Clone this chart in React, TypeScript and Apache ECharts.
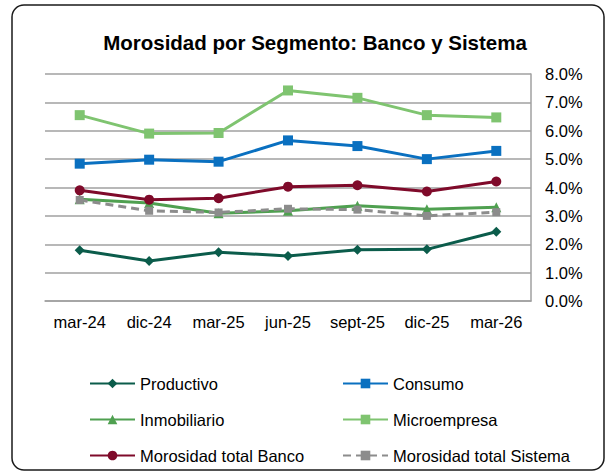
import React, { useEffect, useRef } from "react";
import * as echarts from "echarts";

const categories = ["mar-24", "dic-24", "mar-25", "jun-25", "sept-25", "dic-25", "mar-26"];
const productivo = [1.79, 1.41, 1.72, 1.59, 1.81, 1.82, 2.44];
const consumo = [4.84, 4.98, 4.91, 5.66, 5.46, 5.0, 5.29];
const inmobiliario = [3.59, 3.45, 3.09, 3.18, 3.36, 3.23, 3.3];
const microempresa = [6.55, 5.9, 5.92, 7.42, 7.16, 6.55, 6.47];
const totalBanco = [3.9, 3.57, 3.62, 4.03, 4.08, 3.86, 4.21];
const totalSistema = [3.56, 3.18, 3.12, 3.25, 3.22, 3.0, 3.13];
const yTicks = { min: 0, max: 8, interval: 1 };

const FONT = "'Liberation Sans', Arial, sans-serif";

export default function App() {
  const ref = useRef<HTMLDivElement>(null);
  useEffect(() => {
    if (!ref.current) return;
    const chart = echarts.init(ref.current, null, { renderer: "svg" });
    const mk = (name: string, data: number[], color: string, symbol: string, size: number, dashed = false) => ({
      name,
      type: "line",
      data,
      symbol,
      symbolSize: size,
      itemStyle: { color },
      lineStyle: { color, width: 3, type: dashed ? [8, 5] : "solid" },
      emphasis: { disabled: true },
    });
    chart.setOption({
      animation: false,
      backgroundColor: "#ffffff",
      textStyle: { fontFamily: FONT },
      title: {
        text: "Morosidad por Segmento: Banco y Sistema",
        left: 310,
        top: 27,
        textAlign: "center",
        textStyle: { fontFamily: FONT, fontSize: 20.5, fontWeight: "bold", color: "#000" },
      },
      graphic: [
        {
          type: "rect",
          shape: { x: 12, y: 5, width: 592, height: 465, r: 12 },
          style: { fill: "none", stroke: "#1a1a1a", lineWidth: 1.5 },
          silent: true,
        },
      ],
      grid: { left: 45, right: 75, top: 74, bottom: 172, containLabel: false },
      xAxis: {
        type: "category",
        data: categories,
        boundaryGap: true,
        axisLine: { show: true, lineStyle: { color: "#a0a0a0", width: 1.5 } },
        axisTick: { show: false },
        axisLabel: { color: "#000", fontSize: 16.5, fontFamily: FONT, margin: 12, interval: 0 },
      },
      yAxis: {
        type: "value",
        position: "right",
        min: yTicks.min,
        max: yTicks.max,
        interval: yTicks.interval,
        axisLine: { show: true, lineStyle: { color: "#a0a0a0", width: 1.5 } },
        axisTick: { show: false },
        splitLine: { show: true, lineStyle: { color: "#a0a0a0", width: 1.5 } },
        axisLabel: {
          color: "#000",
          fontSize: 16.5,
          fontFamily: FONT,
          margin: 14,
          formatter: (v: number) => v.toFixed(1) + "%",
        },
      },
      legend: [
        {
          orient: "vertical",
          left: 84,
          top: 370,
          itemWidth: 45,
          itemHeight: 12,
          itemGap: 19,
          data: ["Productivo", "Inmobiliario", "Morosidad total Banco"],
          textStyle: { fontSize: 16.5, fontFamily: FONT, color: "#000" },
          selectedMode: false,
        },
        {
          orient: "vertical",
          left: 337,
          top: 370,
          itemWidth: 45,
          itemHeight: 12,
          itemGap: 19,
          data: ["Consumo", "Microempresa", "Morosidad total Sistema"],
          textStyle: { fontSize: 16.5, fontFamily: FONT, color: "#000" },
          selectedMode: false,
        },
      ],
      series: [
        mk("Productivo", productivo, "#0b5c4b", "diamond", 10),
        mk("Consumo", consumo, "#0a70c0", "rect", 10),
        mk("Inmobiliario", inmobiliario, "#4fa050", "triangle", 10),
        mk("Microempresa", microempresa, "#7fc470", "rect", 10),
        mk("Morosidad total Sistema", totalSistema, "#8c8c8c", "rect", 8, true),
        mk("Morosidad total Banco", totalBanco, "#7f0a2a", "circle", 10),
      ],
    });
    return () => chart.dispose();
  }, []);
  return (
    <div
      ref={ref}
      style={{ position: "fixed", left: 0, top: 0, width: 606, height: 473 }}
    />
  );
}
